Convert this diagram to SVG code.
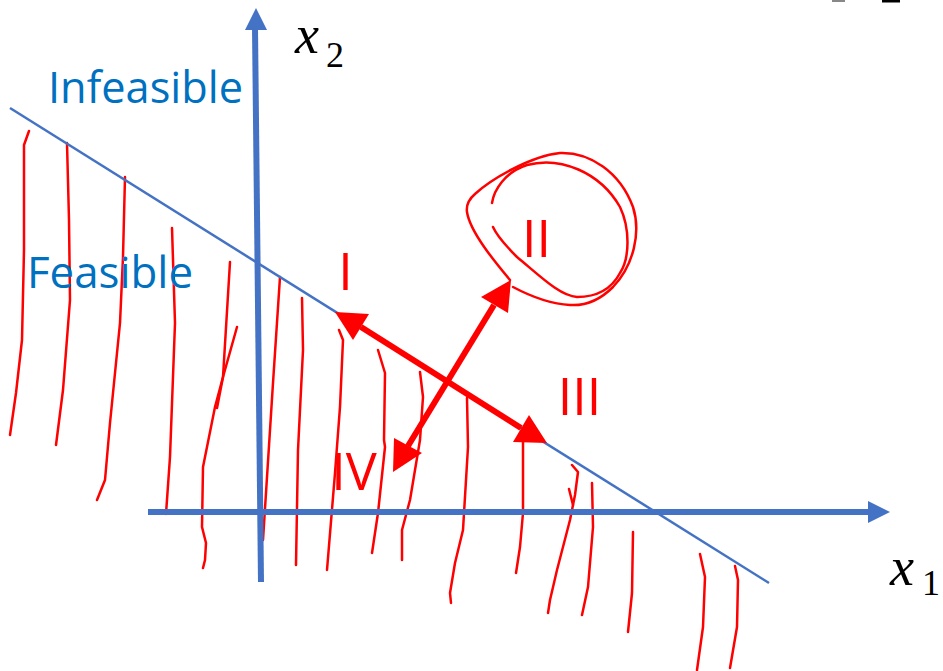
<svg xmlns="http://www.w3.org/2000/svg" width="943" height="671" viewBox="0 0 943 671">
<style>
.ax{stroke:#4472C4;stroke-width:6;fill:none}
.axh{fill:#4472C4;stroke:none}
.con{stroke:#4472C4;stroke-width:2.5;fill:none}
.h{stroke:#FF0000;stroke-width:2.5;fill:none;stroke-linecap:round;stroke-linejoin:round}
.ra{stroke:#FF0000;stroke-width:6;fill:none}
.rh{fill:#FF0000;stroke:none}
.bt{font-family:"Open Sans","Noto Sans",sans-serif;fill:#0070C0}
.rt{font-family:"Open Sans","Noto Sans",sans-serif;fill:#FF0000;font-size:52px;text-anchor:middle}
.mx{font-family:"Liberation Serif",serif;font-style:italic;font-size:54px;fill:#000}
.ms{font-family:"Liberation Serif",serif;font-size:36px;fill:#000}
</style>
<rect width="943" height="671" fill="#fff"/>
<rect x="832" y="0" width="13" height="2" fill="#888"/>
<rect x="882" y="0" width="18" height="2.5" fill="#000"/>
<g id="hatching">
<path class="h" d="M29,131 L24,145 L24,250 L22,340 L16,393 L10,435"/>
<path class="h" d="M67,143 L69,220 L70,300 L63,390 L56,445"/>
<path class="h" d="M125,177 L123,257 L120,323 L110,423 L105,480 L97,500"/>
<path class="h" d="M172,228 L175,323 L170,457 L166,514"/>
<path class="h" d="M230,262 L223,377 L217,408"/>
<path class="h" d="M237,327 L223,377 L215,407 L203,467 L202,527 L206,543 L205,560 L203,568"/>
<path class="h" d="M280,277 L273,383 L263,540"/>
<path class="h" d="M302,298 L303,350 L298,450 L296,565"/>
<path class="h" d="M339,330 L343,340 L340,407 L335,473 L327,570"/>
<path class="h" d="M378,350 L385,373 L384,440 L385,447 L378,513 L372,553"/>
<path class="h" d="M420,372 L423,397 L420,440 L410,500 L402,530 L402,560"/>
<path class="h" d="M467,398 L468,447 L463,530 L455,563 L450,593 L451,603"/>
<path class="h" d="M523,440 L523,513 L520,547 L516,573"/>
<path class="h" d="M572,465 L578,472 L575,495 L570,520 L557,570 L550,600 L548,613"/>
<path class="h" d="M569,489 L573,505"/>
<path class="h" d="M592,483 L593,527 L588,587 L582,615"/>
<path class="h" d="M633,532 L632,593 L628,632"/>
<path class="h" d="M700,554 L705,577 L703,627 L697,670"/>
<path class="h" d="M735,566 L738,580 L737,627 L730,668"/>
</g>
<g id="axes">
<path class="ax" d="M261,582 L255,28"/>
<polygon class="axh" points="256,8 267,30 245,30"/>
<path class="ax" d="M148,512 L870,512"/>
<polygon class="axh" points="890,512 868,501 868,523"/>
</g>
<g id="constraint">
<path class="con" d="M10,108 L769,583"/>
</g>
<g id="circle-II">
<path class="h" d="M510,280 C495,262 470,232 467,212 C466,205 468,200 475,194 C490,180 530,156 560,153 C590,152 620,172 633,207 C641,232 634,265 613,287 C600,300 585,306 570,305 C550,304 530,296 513,287"/>
<path class="h" d="M492,203 C494,190 505,172 527,165 C560,156 600,172 620,207 C630,228 630,258 620,273 C612,288 598,297 577,297 C560,296 540,276 517,257 C505,245 497,236 493,227"/>
</g>
<g id="connectors">
<path class="ra" d="M361,327 L521,428"/>
<polygon class="rh" points="335,312 369,314 353,340"/>
<polygon class="rh" points="547,443 529,415 513,442"/>
<path class="ra" d="M494,305 L408,446"/>
<polygon class="rh" points="511,280 481,297 508,313"/>
<polygon class="rh" points="393,472 394,438 422,453"/>
</g>
<g id="labels">
<text class="bt" x="48" y="103" font-size="44" textLength="195" lengthAdjust="spacingAndGlyphs">Infeasible</text>
<text class="bt" x="27" y="288" font-size="43" textLength="166" lengthAdjust="spacingAndGlyphs">Feasible</text>
<text class="rt" x="345.5" y="290">I</text>
<text class="rt" x="536.5" y="257">II</text>
<text class="rt" x="579.5" y="415">III</text>
<text class="rt" x="354" y="490">IV</text>
<text class="mx" x="295" y="53">x</text>
<text class="ms" x="326" y="67">2</text>
<text class="mx" x="890" y="585">x</text>
<text class="ms" x="922" y="595">1</text>
</g>
</svg>
